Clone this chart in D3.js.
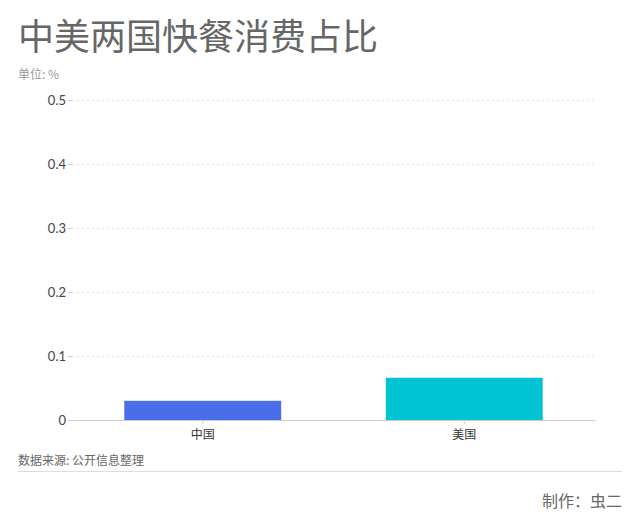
<!DOCTYPE html>
<meta charset="utf-8">
<style>
  body { margin: 0; background: #fff; font-family: "Noto Sans CJK SC", "Noto Sans", sans-serif; }
  .grid line { stroke: #e2e2e2; stroke-dasharray: 2,3; }
  .grid .domain { display: none; }
</style>
<body>
<script src="https://cdn.jsdelivr.net/npm/d3@7"></script>
<script>
  // data
  var countries = ["中国", "美国"];
  var shares = [0.03, 0.066];
  var barColors = ["#4a6eea", "#00c4d3"];
  var yTicks = [0, 0.1, 0.2, 0.3, 0.4, 0.5];

  var width = 640, height = 530;
  var plotLeft = 72, plotRight = 595, plotTop = 100, plotBottom = 420;

  var svg = d3.select("body").append("svg")
    .attr("width", width)
    .attr("height", height);

  var x = d3.scaleBand().domain(countries).range([plotLeft, plotRight])
    .paddingInner(0.4).paddingOuter(0.2);
  var y = d3.scaleLinear().domain([0, 0.5]).range([plotBottom, plotTop]);

  // title and notes
  svg.append("text").attr("x", 18).attr("y", 50)
    .style("font-size", "36px").style("fill", "#666")
    .text("中美两国快餐消费占比");
  svg.append("text").attr("x", 18).attr("y", 79)
    .style("font-size", "12px").style("fill", "#999")
    .text("单位: %");

  // dotted gridlines + tick labels
  var yAxis = svg.append("g").attr("class", "grid")
    .attr("transform", "translate(" + plotLeft + ",0)")
    .call(d3.axisLeft(y).tickValues(yTicks).tickSize(-(plotRight - plotLeft)).tickPadding(6)
      .tickFormat(function (d) { return d === 0 ? "0" : d3.format(".1f")(d); }));
  yAxis.selectAll("text").style("font-size", "13px").style("fill", "#444")
    .style("font-family", "Lato, 'Noto Sans', sans-serif");
  // little tick stubs next to labels
  yAxis.selectAll(".tick").append("line")
    .attr("x1", -4).attr("x2", 0)
    .style("stroke", "#ccc").style("stroke-dasharray", "none");

  // bars
  svg.selectAll("rect.bar").data(countries).enter().append("rect")
    .attr("class", "bar")
    .attr("x", function (d) { return x(d); })
    .attr("width", x.bandwidth())
    .attr("y", function (d, i) { return y(shares[i]); })
    .attr("height", function (d, i) { return plotBottom - y(shares[i]); })
    .style("fill", function (d, i) { return barColors[i]; });

  // x axis
  var xAxis = svg.append("g")
    .attr("transform", "translate(0," + plotBottom + ")")
    .call(d3.axisBottom(x).tickSize(4).tickPadding(6).tickSizeOuter(0));
  xAxis.select(".domain").style("stroke", "#ccc");
  xAxis.selectAll(".tick line").style("stroke", "#ccc");
  xAxis.selectAll("text").style("font-size", "12px").style("fill", "#333")
    .style("font-family", "'Noto Sans CJK SC', sans-serif");

  // source + footer
  svg.append("text").attr("x", 18).attr("y", 465)
    .style("font-size", "12px").style("fill", "#666")
    .text("数据来源: 公开信息整理");
  svg.append("line").attr("x1", 18).attr("x2", 622).attr("y1", 471.5).attr("y2", 471.5)
    .style("stroke", "#ddd");
  svg.append("text").attr("x", 622).attr("y", 507).attr("text-anchor", "end")
    .style("font-size", "16px").style("fill", "#666")
    .text("制作：虫二");
</script>
</body>
